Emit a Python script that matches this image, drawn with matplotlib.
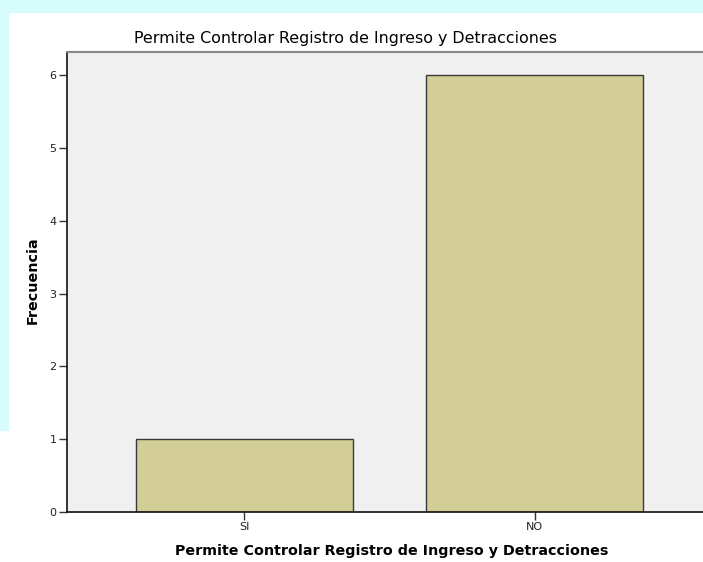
import matplotlib.pyplot as plt
from matplotlib.patches import Rectangle

categories = ["SI", "NO"]
counts = [1, 6]

plt.rcParams["font.family"] = ["DejaVu Sans"]

W, H = 703, 562
fig = plt.figure(figsize=(W / 100, H / 100), dpi=100)

# light watermark border around the chart
fig.patches.append(Rectangle((0, 1 - 12 / H), 1, 12 / H, transform=fig.transFigure,
                             color="#d6fbfb", zorder=0))
fig.patches.append(Rectangle((0, 1 - 430 / H), 8 / W, 430 / H, transform=fig.transFigure,
                             color="#d6fbfb", zorder=0))

left, right, top, bottom = 67, 712, 52, 512
ax = fig.add_axes([left / W, 1 - bottom / H, (right - left) / W, (bottom - top) / H])
ax.set_facecolor("#f0f0f0")

x = range(len(categories))
ax.bar(x, counts, width=0.75, color="#d3ce98", edgecolor="#3a3a3a", linewidth=1.0)

ax.set_xlim(-0.612, 1.612)
ax.set_ylim(0, 6.32)
ax.set_xticks(list(x))
ax.set_xticklabels(categories)
ax.set_yticks(range(0, 7))
ax.tick_params(axis="both", labelsize=8, color="#333333", labelcolor="#222222",
               length=6, width=1, pad=1.5)

for side in ["left", "bottom"]:
    ax.spines[side].set_color("#111111")
    ax.spines[side].set_linewidth(1.2)
ax.spines["top"].set_color("#888888")
ax.spines["top"].set_linewidth(1.5)
ax.spines["right"].set_visible(False)

fig.text(345 / W, 1 - 38 / H, "Permite Controlar Registro de Ingreso y Detracciones",
         ha="center", va="center", fontsize=11.4)
fig.text(392 / W, 1 - 551 / H, "Permite Controlar Registro de Ingreso y Detracciones",
         ha="center", va="center", fontsize=10.3, fontweight="bold")
fig.text(33 / W, 1 - 280 / H, "Frecuencia", ha="center", va="center",
         rotation=90, fontsize=10.3, fontweight="bold")

fig.savefig("out.png", dpi=100)
